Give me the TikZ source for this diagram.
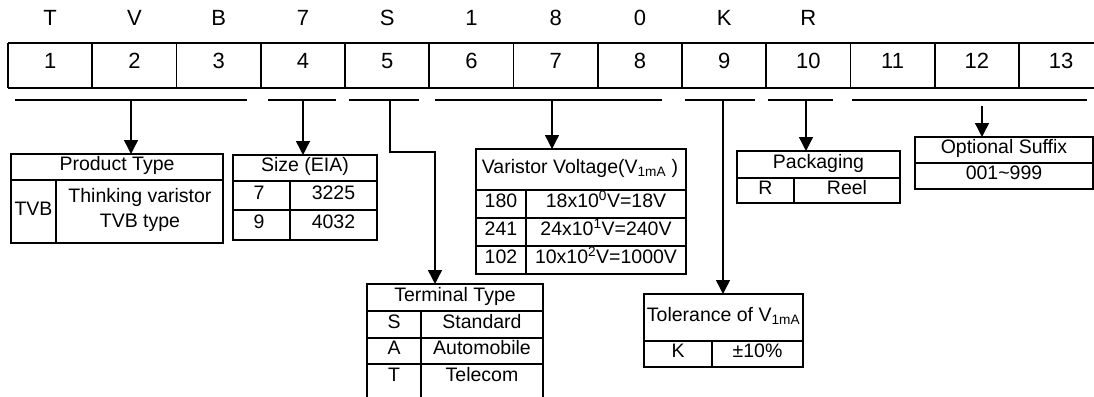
\documentclass[tikz,border=0pt]{standalone}
\usepackage{fontspec}
\setmainfont{Liberation Sans}
\usetikzlibrary{arrows.meta}
\begin{document}
\begin{tikzpicture}[x=1pt,y=-1pt,
  brk/.style={line width=1.4pt},
  arr/.style={line width=1.4pt,-{Triangle[width=14pt,length=14pt]}},
  tbl/.style={line width=1.8pt},
  box/.style={draw,line width=1.8pt,rectangle,inner sep=0pt,outer sep=0pt,anchor=north west},
  big/.style={font=\fontsize{22}{22}\selectfont,inner sep=0pt,text height=0.716em,text depth=0pt},
  txt/.style={font=\fontsize{19.5}{21}\selectfont,inner sep=0pt,text height=0.716em,text depth=0pt}]
\useasboundingbox (0,0) rectangle (1094,396);
% main row
\draw[tbl] (8,42.7) -- (1110,42.7) (8,88) -- (1110,88);
\foreach \i in {0,...,12} {\draw[tbl] ({8+84.25*\i},42.7) -- ({8+84.25*\i},88);}
\foreach \i in {1,...,13} {\node[big] (c\i) at ({8+84.25*(\i-0.5)},65.3) {\i};}
\foreach \ch [count=\i] in {T,V,B,7,S,1,8,0,K,R} {\node[big] (l\i) at ({8+84.25*(\i-0.5)},22) {\ch};}
% tables
\node[box,minimum width=212pt,minimum height=89pt] (prod) at (11,154) {};
\draw[tbl] (11,180) -- (223,180) (56,180) -- (56,243);
\node[txt] (prodh) at (117,167) {Product Type};
\node[txt] (prodk) at (33.5,211.5) {TVB};
\node[txt] (prodv1) at (140,199) {Thinking varistor};
\node[txt] (prodv2) at (140,224) {TVB type};

\node[box,minimum width=144pt,minimum height=85pt] (size) at (233,155) {};
\draw[tbl] (233,181) -- (377,181) (233,210) -- (377,210) (290,181) -- (290,240);
\node[txt] (sizeh) at (305,168) {Size (EIA)};
\node[txt] (s1k) at (259,195.5) {7};
\node[txt] (s1v) at (333.5,195.5) {3225};
\node[txt] (s2k) at (259,225) {9};
\node[txt] (s2v) at (333.5,225) {4032};

\node[box,minimum width=210pt,minimum height=125pt] (volt) at (476,149) {};
\draw[tbl] (476,190) -- (686,190) (476,218) -- (686,218) (476,246) -- (686,246) (526,190) -- (526,274);
\node[txt] (volth) at (580,169.5) {Varistor Voltage(V\textsubscript{1mA} )};
\node[txt] (v1k) at (501,204) {180};
\node[txt] (v1v) at (606,204) {18x10\textsuperscript{0}V=18V};
\node[txt] (v2k) at (501,232) {241};
\node[txt] (v2v) at (606,232) {24x10\textsuperscript{1}V=240V};
\node[txt] (v3k) at (501,260) {102};
\node[txt] (v3v) at (606,260) {10x10\textsuperscript{2}V=1000V};

\node[box,minimum width=176pt,minimum height=120pt] (term) at (367,284) {};
\draw[tbl] (367,311) -- (543,311) (367,338) -- (543,338) (367,364) -- (543,364) (421,311) -- (421,404);
\node[txt] (termh) at (455,297.5) {Terminal Type};
\node[txt] (t1k) at (394,324.5) {S};
\node[txt] (t1v) at (482,324.5) {Standard};
\node[txt] (t2k) at (394,351) {A};
\node[txt] (t2v) at (482,351) {Automobile};
\node[txt] (t3k) at (394,378) {T};
\node[txt] (t3v) at (482,378) {Telecom};

\node[box,minimum width=159pt,minimum height=73pt] (tol) at (644,294) {};
\draw[tbl] (644,341) -- (803,341) (712,341) -- (712,367);
\node[txt] (tolh) at (723.5,317.5) {Tolerance of V\textsubscript{1mA}};
\node[txt] (tolk) at (678,354) {K};
\node[txt] (tolv) at (757.5,354) {±10\%};

\node[box,minimum width=163pt,minimum height=52pt] (pack) at (737,151) {};
\draw[tbl] (737,178) -- (900,178) (794,178) -- (794,203);
\node[txt] (packh) at (818.5,164.5) {Packaging};
\node[txt] (packk) at (765.5,190.5) {R};
\node[txt] (packv) at (847,190.5) {Reel};

\node[box,minimum width=178pt,minimum height=52pt] (opt) at (915,137) {};
\draw[tbl] (915,163) -- (1093,163);
\node[txt] (opth) at (1004,150) {Optional Suffix};
\node[txt] (optv) at (1004,176) {001\textasciitilde 999};

% brackets
\draw[brk] (15,100) -- (247,100);
\coordinate (g1) at (131,100);
\draw[arr] (g1) -- (g1 |- prod.north);
\draw[brk] (268,100) -- (336,100);
\coordinate (g2) at (303,100);
\draw[arr] (g2) -- (g2 |- size.north);
\draw[brk] (349,100) -- (419,100);
\coordinate (g3) at (390,100);
\coordinate (g3b) at (435,152);
\draw[arr] (g3) |- (g3b) -- (g3b |- term.north);
\draw[brk] (435,100) -- (662,100);
\coordinate (g4) at (552,100);
\draw[arr] (g4) -- (g4 |- volt.north);
\draw[brk] (685,100) -- (755,100);
\coordinate (g5) at (723,100);
\draw[arr] (g5) -- (g5 |- tol.north);
\draw[brk] (768,100) -- (833,100);
\coordinate (g6) at (806,100);
\draw[arr] (g6) -- (g6 |- pack.north);
\draw[brk] (852,100) -- (1087,100);
\coordinate (g7) at (982,106);
\draw[arr] (g7) -- (g7 |- opt.north);
\end{tikzpicture}
\end{document}
